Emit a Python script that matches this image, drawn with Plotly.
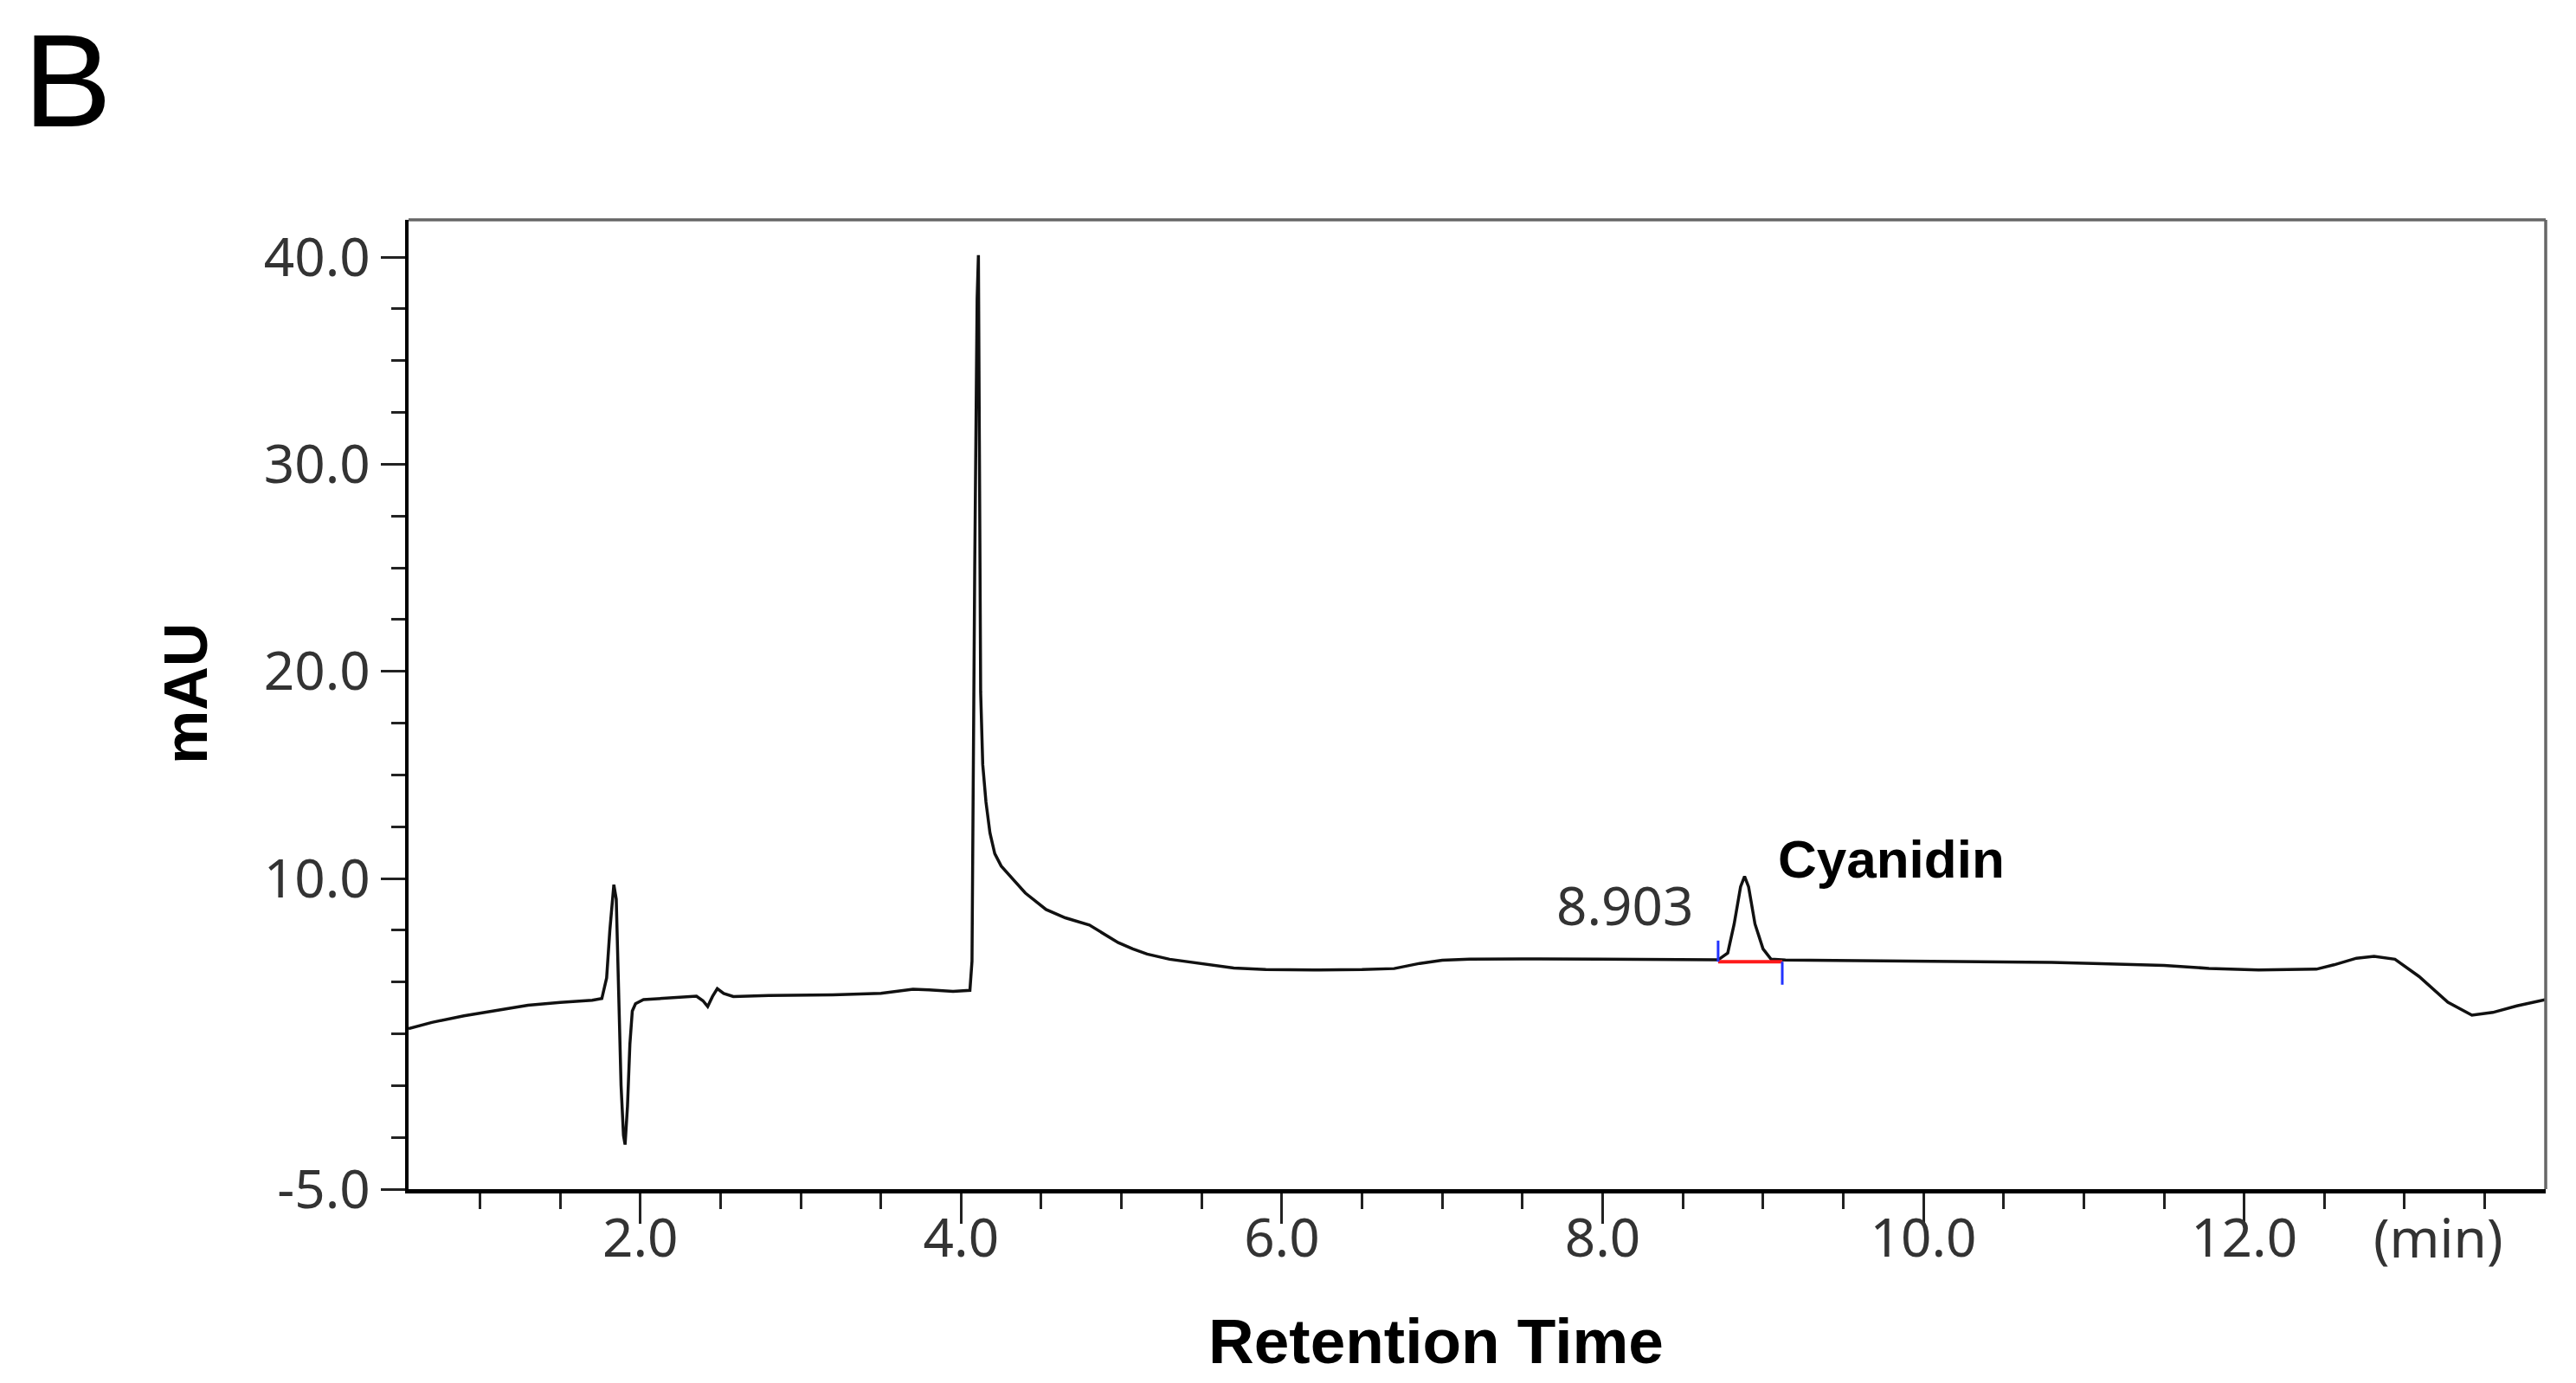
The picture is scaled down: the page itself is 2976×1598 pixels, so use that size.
import numpy as np
import plotly.graph_objects as go

# chromatogram trace (min, mAU)
time_min = [0.555, 0.70, 0.90, 1.10, 1.30, 1.50, 1.70, 1.76, 1.79, 1.81, 1.835, 1.85, 1.865,
            1.88, 1.895, 1.905, 1.92, 1.935, 1.95, 1.97, 2.02, 2.20, 2.35, 2.39, 2.42, 2.45,
            2.48, 2.52, 2.58, 2.80, 3.20, 3.50, 3.70, 3.80, 3.95, 4.055, 4.068, 4.085, 4.10,
            4.108, 4.115, 4.122, 4.135, 4.155, 4.18, 4.21, 4.25, 4.32, 4.40, 4.53, 4.65, 4.80,
            4.90, 4.98, 5.07, 5.16, 5.30, 5.52, 5.70, 5.90, 6.20, 6.50, 6.70, 6.86, 7.00, 7.17,
            7.50, 7.98, 8.40, 8.72, 8.78, 8.82, 8.86, 8.885, 8.91, 8.95, 9.00, 9.05, 9.14,
            9.60, 10.00, 10.44, 10.80, 11.11, 11.50, 11.78, 12.09, 12.45, 12.56, 12.70,
            12.81, 12.94, 13.09, 13.27, 13.42, 13.55, 13.70, 13.88]
signal_mau = [2.75, 3.05, 3.37, 3.62, 3.88, 4.02, 4.12, 4.20, 5.2, 7.5, 9.7, 9.0, 4.5,
              0.0, -2.4, -2.85, -1.0, 2.0, 3.6, 3.95, 4.15, 4.25, 4.32, 4.10, 3.82, 4.30,
              4.68, 4.45, 4.30, 4.35, 4.38, 4.45, 4.65, 4.62, 4.55, 4.6, 6.0, 25.0, 38.0,
              40.1, 30.0, 19.0, 15.5, 13.7, 12.2, 11.2, 10.6, 10.0, 9.3, 8.5, 8.1, 7.75,
              7.3, 6.9, 6.6, 6.35, 6.1, 5.85, 5.68, 5.60, 5.58, 5.60, 5.65, 5.90, 6.05, 6.10,
              6.12, 6.10, 6.08, 6.07, 6.4, 7.8, 9.6, 10.1, 9.6, 7.8, 6.6, 6.1, 6.06,
              6.02, 6.00, 5.98, 5.95, 5.88, 5.80, 5.66, 5.58, 5.62, 5.83, 6.15,
              6.24, 6.10, 5.27, 4.02, 3.40, 3.53, 3.85, 4.15]

# integration marks of the cyanidin peak
peak_rt = 8.903
peak_name = "Cyanidin"
base_x = [8.72, 9.12]
base_y = [5.98, 5.98]
mark_left_y = [5.98, 7.0]
mark_right_y = [5.98, 4.87]

x_range = [0.555, 13.88]
y_range = [-5.0, 41.8]
y_major = [-5.0, 10.0, 20.0, 30.0, 40.0]

fig = go.Figure()
fig.add_trace(go.Scatter(x=time_min, y=signal_mau, mode="lines",
                         line=dict(color="#111111", width=3.5), showlegend=False))
fig.add_trace(go.Scatter(x=base_x, y=base_y, mode="lines",
                         line=dict(color="#ff1a1a", width=4), showlegend=False))
fig.add_trace(go.Scatter(x=[base_x[0], base_x[0]], y=mark_left_y, mode="lines",
                         line=dict(color="#2233ff", width=3), showlegend=False))
fig.add_trace(go.Scatter(x=[base_x[1], base_x[1]], y=mark_right_y, mode="lines",
                         line=dict(color="#2233ff", width=3), showlegend=False))

tick_font = dict(family="Noto Sans, Open Sans, sans-serif", size=62, color="#333333")
bold_font = "Liberation Sans, Arial, sans-serif"

fig.update_xaxes(range=x_range, showgrid=False, zeroline=False,
                 showline=True, linecolor="black", linewidth=5,
                 ticks="outside", ticklen=35, tickwidth=2.5, tickcolor="#222222",
                 tick0=0, dtick=2, tickformat=".1f", tickfont=tick_font,
                 ticklabelstandoff=-36,
                 minor=dict(ticks="outside", ticklen=18, tickwidth=2.5, tickcolor="#222222",
                            tick0=0, dtick=0.5))
fig.update_yaxes(range=y_range, showgrid=False, zeroline=False,
                 showline=True, linecolor="black", linewidth=3.5,
                 ticks="outside", ticklen=28, tickwidth=3, tickcolor="#222222",
                 tickmode="array", tickvals=y_major, ticktext=["%.1f" % v for v in y_major],
                 tickfont=tick_font,
                 minor=dict(ticks="outside", ticklen=16, tickwidth=3, tickcolor="#222222",
                            tickmode="array", tickvals=list(np.arange(-2.5, 40, 2.5))))

# top / right frame in grey
fig.add_shape(type="line", xref="paper", yref="paper", x0=0, x1=1, y0=1, y1=1,
              line=dict(color="#666666", width=3.5))
fig.add_shape(type="line", xref="paper", yref="paper", x0=1, x1=1, y0=0, y1=1,
              line=dict(color="#666666", width=3.5))

fig.add_annotation(x=8.135, y=8.76, text="%.3f" % peak_rt, showarrow=False,
                   xanchor="center", yanchor="middle",
                   font=dict(family="Noto Sans, sans-serif", size=62, color="#333333"))
fig.add_annotation(x=9.80, y=10.95, text="<b>%s</b>" % peak_name, showarrow=False,
                   xanchor="center", yanchor="middle",
                   font=dict(family=bold_font, size=62, color="black"))
fig.add_annotation(x=13.21, y=-0.0491, xref="x", yref="paper", text="(min)", showarrow=False,
                   xanchor="center", yanchor="middle", font=tick_font)
fig.add_annotation(x=0.4808, y=-0.1571, xref="paper", yref="paper", text="<b>Retention Time</b>",
                   showarrow=False, xanchor="center", yanchor="middle",
                   font=dict(family=bold_font, size=73, color="black"))
fig.add_annotation(x=-0.1041, y=0.5116, xref="paper", yref="paper", text="<b>mAU</b>",
                   textangle=-90, showarrow=False, xanchor="center", yanchor="middle",
                   font=dict(family=bold_font, size=70, color="black"))
fig.add_annotation(x=-0.181, y=1.1442, xref="paper", yref="paper", text="B",
                   showarrow=False, xanchor="left", yanchor="middle",
                   font=dict(family=bold_font, size=153, color="black"))

fig.update_layout(width=2976, height=1598,
                  margin=dict(l=464, r=43, t=246, b=232),
                  plot_bgcolor="white", paper_bgcolor="white")

fig.write_html("out.html")
